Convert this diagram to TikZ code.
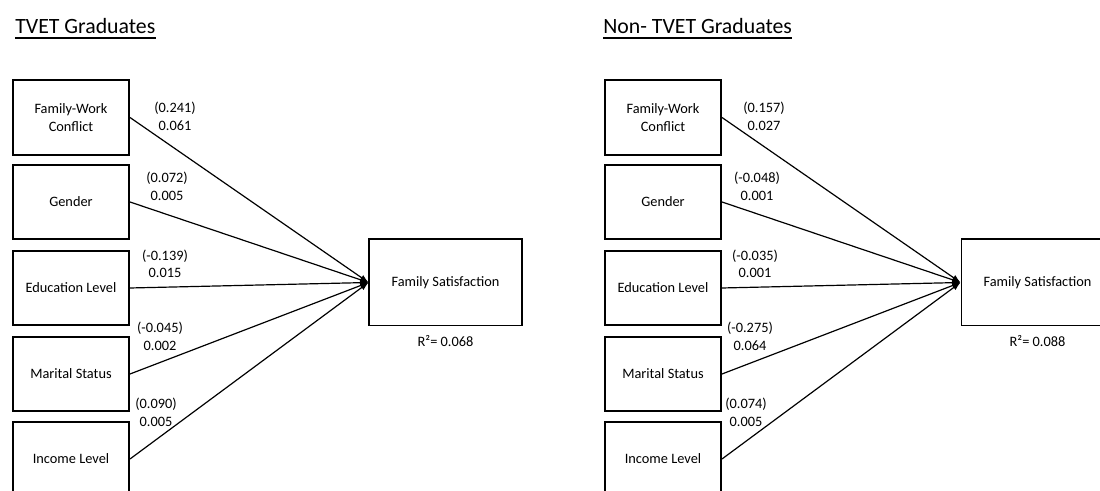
\documentclass[tikz,border=0pt]{standalone}
\usepackage{fontspec}
\setmainfont{Carlito}
\usetikzlibrary{arrows.meta,positioning}

\begin{document}
\begin{tikzpicture}[x=0.025cm, y=0.025cm,
  var/.style={draw, line width=1.4pt, minimum width=2.9cm, minimum height=1.86cm, align=center, font=\fontsize{10.2}{12.5}\selectfont},
  dep/.style={draw, line width=1.4pt, minimum width=3.8cm, minimum height=2.15cm, font=\fontsize{10.2}{12.5}\selectfont},
  coef/.style={align=center, inner sep=0pt, font=\fontsize{10.2}{12.5}\selectfont},
  link/.style={line width=0.85pt, -{Latex[length=6pt, width=4.5pt]}},
  ttl/.style={anchor=base west, inner sep=0pt, font=\fontsize{15.5}{18}\selectfont}]

\useasboundingbox (0,0) rectangle (1100,491);

\node[ttl] (ttlL) at (15,457) {TVET Graduates};
\draw[line width=0.9pt] ([yshift=-2.8pt]ttlL.base west) -- ([yshift=-2.8pt]ttlL.base east);

\node[var] (fwcL) at (71,373.5) {Family-Work\\Conflict};
\node[var] (genL) at (71,289) {Gender};
\node[var] (eduL) at (71,203) {Education Level};
\node[var] (marL) at (71,117) {Marital Status};
\node[var] (incL) at (71,32) {Income Level};

\node[dep] (fsL) at (445.5,208.5) {Family Satisfaction};
\node[coef, below=0.22cm of fsL] (r2L) {R²= 0.068};

\draw[link] (fwcL.east) -- (fsL.west);
\draw[link] (genL.east) -- (fsL.west);
\draw[link] (eduL.east) -- (fsL.west);
\draw[link] (marL.east) -- (fsL.west);
\draw[link] (incL.east) -- (fsL.west);

\node[coef] (fwcLc) at (175,374.5) {(0.241)\\0.061};
\node[coef] (genLc) at (167,304.5) {(0.072)\\0.005};
\node[coef] (eduLc) at (165,227) {(-0.139)\\0.015};
\node[coef] (marLc) at (160,154.5) {(-0.045)\\0.002};
\node[coef] (incLc) at (156,78.5) {(0.090)\\0.005};

\node[ttl] (ttlR) at (603,457) {Non- TVET Graduates};
\draw[line width=0.9pt] ([yshift=-2.8pt]ttlR.base west) -- ([yshift=-2.8pt]ttlR.base east);

\node[var] (fwcR) at (663,373.5) {Family-Work\\Conflict};
\node[var] (genR) at (663,289) {Gender};
\node[var] (eduR) at (663,203) {Education Level};
\node[var] (marR) at (663,117) {Marital Status};
\node[var] (incR) at (663,32) {Income Level};

\node[dep] (fsR) at (1037.5,208.5) {Family Satisfaction};
\node[coef, below=0.22cm of fsR] (r2R) {R²= 0.088};

\draw[link] (fwcR.east) -- (fsR.west);
\draw[link] (genR.east) -- (fsR.west);
\draw[link] (eduR.east) -- (fsR.west);
\draw[link] (marR.east) -- (fsR.west);
\draw[link] (incR.east) -- (fsR.west);

\node[coef] (fwcRc) at (764,374.5) {(0.157)\\0.027};
\node[coef] (genRc) at (757,304.5) {(-0.048)\\0.001};
\node[coef] (eduRc) at (755,227) {(-0.035)\\0.001};
\node[coef] (marRc) at (750,154.5) {(-0.275)\\0.064};
\node[coef] (incRc) at (746,78.5) {(0.074)\\0.005};
\end{tikzpicture}
\end{document}
